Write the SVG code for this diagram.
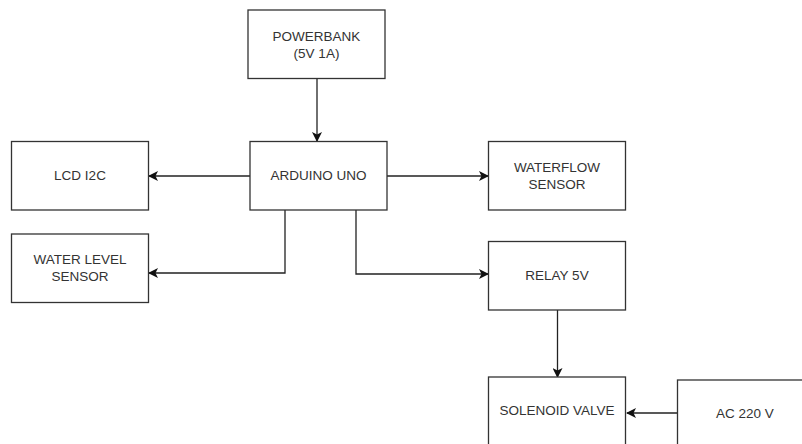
<svg xmlns="http://www.w3.org/2000/svg" width="802" height="444" viewBox="0 0 802 444">
<style>
.box{fill:#fff;stroke:#333;stroke-width:1.3}
.lbl{font-family:"Liberation Sans",Arial,sans-serif;font-size:13.5px;fill:#333;text-anchor:middle;dominant-baseline:central}
.con{fill:none;stroke:#222;stroke-width:1.3}
</style>
<defs>
<marker id="arr" viewBox="0 0 10 10" refX="9" refY="5" markerWidth="10" markerHeight="10" markerUnits="userSpaceOnUse" orient="auto">
<path d="M0,0 L10,5 L0,10 L2.5,5 Z" fill="#111"/>
</marker>
</defs>
<rect width="802" height="444" fill="#fff"/>
<g id="connectors">
<path class="con" d="M317,78.5 V141" marker-end="url(#arr)"/>
<path class="con" d="M250,176 H149" marker-end="url(#arr)"/>
<path class="con" d="M387,176 H488" marker-end="url(#arr)"/>
<path class="con" d="M285,210 V273 H149" marker-end="url(#arr)"/>
<path class="con" d="M356,210 V274 H488" marker-end="url(#arr)"/>
<path class="con" d="M557.5,310 V377" marker-end="url(#arr)"/>
<path class="con" d="M677.5,413 H627" marker-end="url(#arr)"/>
</g>
<g id="powerbank">
<rect class="box" x="248" y="10" width="137" height="68.5"/>
<text class="lbl" x="316.5" y="36.5">POWERBANK</text>
<text class="lbl" x="316.5" y="53">(5V 1A)</text>
</g>
<g id="arduino">
<rect class="box" x="250" y="141.5" width="137" height="68.5"/>
<text class="lbl" x="318.5" y="175.5">ARDUINO UNO</text>
</g>
<g id="lcd">
<rect class="box" x="11.5" y="141.5" width="137" height="68.5"/>
<text class="lbl" x="80" y="175.5">LCD I2C</text>
</g>
<g id="waterlevel">
<rect class="box" x="11.5" y="234" width="137" height="68.5"/>
<text class="lbl" x="80" y="259.5">WATER LEVEL</text>
<text class="lbl" x="80" y="276.5">SENSOR</text>
</g>
<g id="waterflow">
<rect class="box" x="488.5" y="141.5" width="137" height="68.5"/>
<text class="lbl" x="557" y="167">WATERFLOW</text>
<text class="lbl" x="557" y="184">SENSOR</text>
</g>
<g id="relay">
<rect class="box" x="488.5" y="241.5" width="137" height="68.5"/>
<text class="lbl" x="557" y="275.5">RELAY 5V</text>
</g>
<g id="solenoid">
<rect class="box" x="488.5" y="377" width="137" height="68.5"/>
<text class="lbl" x="557" y="410">SOLENOID VALVE</text>
</g>
<g id="ac">
<rect class="box" x="677.5" y="380" width="137" height="68.5"/>
<text class="lbl" x="745" y="413.5">AC 220 V</text>
</g>
</svg>
